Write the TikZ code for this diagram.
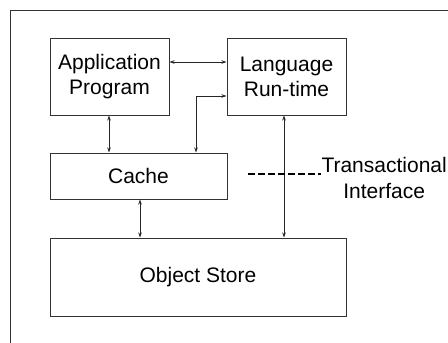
\documentclass[tikz,border=0pt]{standalone}
\usepackage{fontspec}
\setmainfont{Liberation Sans}
\usepackage{tikz}
\usetikzlibrary{arrows.meta}
\usetikzlibrary{calc}
\begin{document}
\begin{tikzpicture}[x=1pt,y=-1pt]
      \tikzstyle{dedge} = [<->,>={Stealth[length=5pt,width=3.5pt]},draw=black!85,line width=0.8pt]
      \tikzstyle{box}=[
        rectangle,
        draw=black!80,
        line width=1pt,
        anchor=center,
        align=center,
        inner sep=0pt,
        font=\fontsize{21}{25}\selectfont,
      ]
      \useasboundingbox (0,0) rectangle (448,343);
      \draw[black!80, line width=1pt] (10.5,343) -- (10.5,10) -- (448,10);

      \node[box, minimum width=119, minimum height=77] (app) at (109.5,76.5) {Application\\Program};
      \node[box, minimum width=119, minimum height=77] (lang) at (286.5,76.5) {Language\\Run-time};
      \node[box, minimum width=177, minimum height=46] (cache) at (138.5,176) {Cache};
      \node[box, minimum width=296, minimum height=78] (store) at (198,277) {Object Store};
      \node[box, draw=none, anchor=west, font=\fontsize{21}{26}\selectfont] (trans) at (321,178) {Transactional\\Interface};
      \coordinate (dash) at (248,174);

      \draw[dedge] (app.east |- 0,62) -- (lang.west |- 0,62);
      \draw[dedge] (cache.north -| 196,0) |- (lang.west |- 0,96);
      \draw[dedge] (app.south -| 109,0) -- (cache.north -| 109,0);
      \draw[dedge] (cache.south -| 140,0) -- (store.north -| 140,0);
      \draw[dedge] (lang.south -| 284,0) -- (store.north -| 284,0);
      \draw[line width=2pt, dash pattern=on 7pt off 3pt] (dash) -- (dash -| trans.west);
    \end{tikzpicture}
\end{document}
